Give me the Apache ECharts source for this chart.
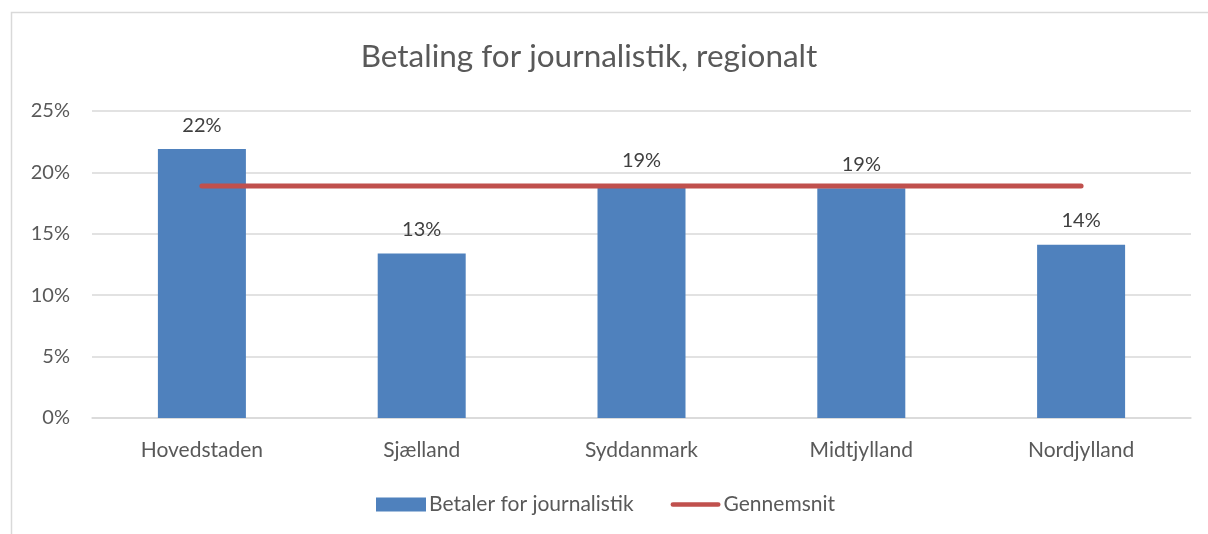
<!DOCTYPE html>
<html>
<head>
<meta charset="utf-8">
<script src="https://cdn.jsdelivr.net/npm/echarts@6/dist/echarts.min.js"></script>
<style>
	html, body { margin: 0; padding: 0; background: #fff; }
	#chart { width: 1208px; height: 534px; }
</style>
</head>
<body>
<div id="chart"></div>
<script>
// data
var regions = ['Hovedstaden', 'Sjælland', 'Syddanmark', 'Midtjylland', 'Nordjylland'];
var betaler = [0.219, 0.134, 0.190, 0.187, 0.141];
var gennemsnit = [0.189, 0.189, 0.189, 0.189, 0.189];
var yTicks = [0, 0.05, 0.10, 0.15, 0.20, 0.25];

var FONT = 'Lato';
var chart = echarts.init(document.getElementById('chart'));

function pct(v) {
	return Math.round(v * 100) + '%';
}

// rounded line used as legend marker for the average line
var lineIcon = 'path://M2.5,0 L50.5,0 A2.5,2.5 0 0 1 50.5,5 L2.5,5 A2.5,2.5 0 0 1 2.5,0 Z';

var option = {
	backgroundColor: '#fff',
	animation: false,
	textStyle: { fontFamily: FONT },
	title: {
		text: 'Betaling for journalistik, regionalt',
		left: 584,
		top: 36,
		textAlign: 'center',
		textStyle: { fontFamily: FONT, fontSize: 31.5, fontWeight: 'normal', color: '#595959' }
	},
	graphic: [{
		type: 'rect',
		shape: { x: 11.5, y: 12.5, width: 1400, height: 700 },
		style: { fill: 'none', stroke: '#d9d9d9', lineWidth: 1.5 },
		silent: true
	}],
	grid: { left: 92, right: 17, top: 111, bottom: 116 },
	legend: {
		left: 376,
		top: 494,
		padding: 0,
		itemGap: 37,
		itemWidth: 50,
		itemHeight: 14,
		symbolKeepAspect: true,
		textStyle: { fontFamily: FONT, fontSize: 21, color: '#595959', padding: [0, 0, 0, -2] },
		data: [
			{ name: 'Betaler for journalistik', icon: 'rect' },
			{ name: 'Gennemsnit', icon: lineIcon, itemStyle: { color: '#c0504d' } }
		]
	},
	xAxis: {
		type: 'category',
		data: regions,
		axisLine: { lineStyle: { color: '#d9d9d9', width: 1.5 } },
		axisTick: { show: false },
		axisLabel: { fontFamily: FONT, fontSize: 21, color: '#595959', margin: 22 }
	},
	yAxis: {
		type: 'value',
		min: yTicks[0],
		max: yTicks[yTicks.length - 1],
		interval: yTicks[1] - yTicks[0],
		axisLine: { show: false },
		axisTick: { show: false },
		splitLine: { lineStyle: { color: '#d9d9d9', width: 1.5 } },
		axisLabel: { fontFamily: FONT, fontSize: 20, color: '#595959', margin: 22, formatter: pct }
	},
	series: [
		{
			name: 'Betaler for journalistik',
			type: 'bar',
			data: betaler,
			barWidth: 88,
			itemStyle: { color: '#4f81bd' },
			label: {
				show: true,
				position: 'top',
				distance: 14,
				fontFamily: FONT,
				fontSize: 20,
				color: '#404040',
				formatter: function(p) { return pct(p.value); }
			}
		},
		{
			name: 'Gennemsnit',
			type: 'line',
			data: gennemsnit,
			symbol: 'none',
			itemStyle: { color: '#c0504d' },
			lineStyle: { color: '#c0504d', width: 5, cap: 'round' }
		}
	]
};

chart.setOption(option);
</script>
</body>
</html>
